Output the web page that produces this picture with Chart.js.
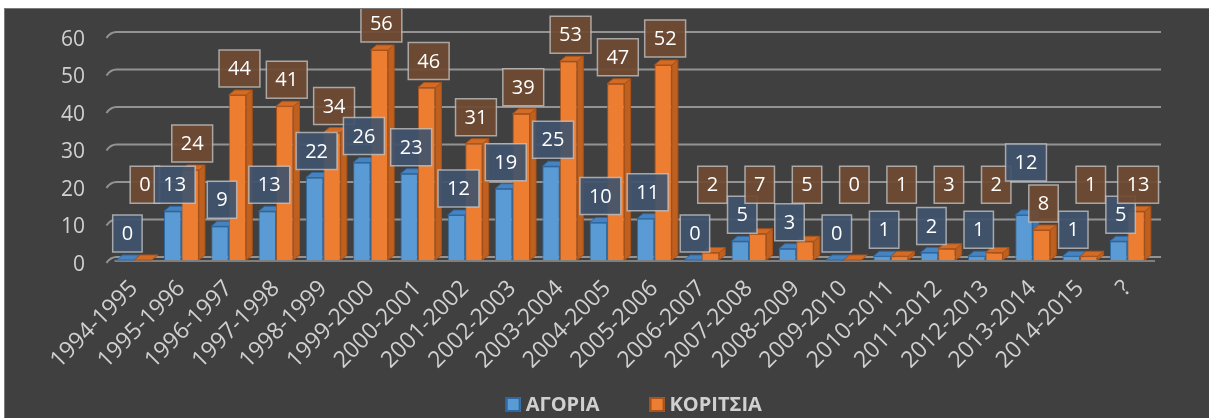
<!DOCTYPE html>
<html>
<head>
<meta charset="utf-8">
<script src="https://cdn.jsdelivr.net/npm/chart.js@4.4.1/dist/chart.umd.min.js"></script>
<style>
  html, body { margin: 0; background: #fff; }
  #frame {
    position: absolute; left: 4px; top: 8px;
    width: 1205px; height: 410px;
    background: #404040;
    border-left: 1px solid #7a7a7a;
    border-top: 1px solid #7a7a7a;
  }
  canvas { display: block; }
</style>
</head>
<body>
<div id="frame"><canvas id="chart" width="1205" height="410"></canvas></div>
<script>
// --- Data ---
const seasons = [
  '1994-1995', '1995-1996', '1996-1997', '1997-1998', '1998-1999', '1999-2000',
  '2000-2001', '2001-2002', '2002-2003', '2003-2004', '2004-2005', '2005-2006',
  '2006-2007', '2007-2008', '2008-2009', '2009-2010', '2010-2011', '2011-2012',
  '2012-2013', '2013-2014', '2014-2015', '?'
]
const boys  = [0, 13, 9, 13, 22, 26, 23, 12, 19, 25, 10, 11, 0, 5, 3, 0, 1, 2, 1, 12, 1, 5]
const girls = [0, 24, 44, 41, 34, 56, 46, 31, 39, 53, 47, 52, 2, 7, 5, 0, 1, 3, 2, 8, 1, 13]
const yTicks = [0, 10, 20, 30, 40, 50, 60]

const FONT = "'Open Sans', 'Noto Sans', sans-serif"
const TEXT = '#d0d0d0'
const DEPTH = { dx: 6, dy: 5 }

// --- 3D look helpers ---

// back wall gridlines with the little hook Excel draws on the left
const wallGrid = {
  id: 'wallGrid',
  beforeDatasetsDraw(chart) {
    const { ctx, chartArea, scales } = chart
    ctx.save()
    ctx.lineWidth = 2
    ctx.strokeStyle = 'rgba(175,175,175,0.75)'
    yTicks.forEach(v => {
      const y = scales.y.getPixelForValue(v) - 3
      ctx.beginPath()
      ctx.moveTo(chartArea.left - 4, y + 6)
      ctx.quadraticCurveTo(chartArea.left, y, chartArea.left + 6, y)
      ctx.lineTo(chartArea.right + 10, y)
      ctx.stroke()
    })
    // front edge of the floor
    const base = scales.y.getPixelForValue(0)
    ctx.strokeStyle = 'rgba(170,170,170,0.8)'
    ctx.lineWidth = 1.5
    ctx.beginPath()
    ctx.moveTo(chartArea.left + 4, base + 1)
    ctx.lineTo(chartArea.right + 4, base + 1)
    ctx.stroke()
    ctx.restore()
  }
}

// top and side faces, drawn behind the flat bar fronts
const bars3d = {
  id: 'bars3d',
  beforeDatasetsDraw(chart) {
    const { ctx } = chart
    const { dx, dy } = DEPTH
    ctx.save()
    ctx.lineWidth = 1
    chart.data.datasets.forEach((ds, di) => {
      chart.getDatasetMeta(di).data.forEach(bar => {
        const { x, y, base, width } = bar.getProps(['x', 'y', 'base', 'width'], true)
        const l = x - width / 2, r = x + width / 2
        ctx.strokeStyle = ds.borderColor
        // side
        ctx.fillStyle = ds.sideColor
        ctx.beginPath()
        ctx.moveTo(r, y); ctx.lineTo(r + dx, y - dy)
        ctx.lineTo(r + dx, base - dy); ctx.lineTo(r, base)
        ctx.closePath(); ctx.fill(); ctx.stroke()
        // top
        ctx.fillStyle = ds.topColor
        ctx.beginPath()
        ctx.moveTo(l, y); ctx.lineTo(l + dx, y - dy)
        ctx.lineTo(r + dx, y - dy); ctx.lineTo(r, y)
        ctx.closePath(); ctx.fill(); ctx.stroke()
      })
    })
    ctx.restore()
  }
}

// boxed value labels above each bar
const valueTags = {
  id: 'valueTags',
  afterDatasetsDraw(chart) {
    const { ctx, scales } = chart
    const { dy } = DEPTH
    const floors = [0, 13] // girls' tags never sit lower than this value
    ctx.save()
    ctx.font = '20px ' + FONT
    ctx.textAlign = 'center'
    ctx.textBaseline = 'middle'
    const h = 37
    seasons.forEach((_, i) => {
      const boxes = chart.data.datasets.map((ds, di) => {
        const v = ds.data[i]
        const bar = chart.getDatasetMeta(di).data[i]
        const text = String(v)
        const w = ctx.measureText(text).width + 18
        let floor = floors[di]
        if (boys[i] > girls[i]) floor = 0
        const bottom = scales.y.getPixelForValue(Math.max(v, floor)) - dy - 3
        return { text, w, cx: bar.x + 2, bottom, fill: ds.tagColor }
      })
      // taller boys' bar: stack its tag above the girls' one
      if (boys[i] > girls[i] && boxes[0].bottom > boxes[1].bottom - h) {
        boxes[0].bottom = boxes[1].bottom - h - 4
      }
      boxes.forEach(b => {
        const top = b.bottom - h
        ctx.fillStyle = b.fill
        ctx.fillRect(b.cx - b.w / 2, top, b.w, h)
        ctx.strokeStyle = 'rgba(200,200,200,0.75)'
        ctx.lineWidth = 1.5
        ctx.strokeRect(b.cx - b.w / 2, top, b.w, h)
        ctx.fillStyle = '#ffffff'
        ctx.fillText(b.text, b.cx, top + h / 2 + 1)
      })
    })
    ctx.restore()
  }
}

// legend row under the axis labels, centred on the plot
const legendRow = {
  id: 'legendRow',
  afterDraw(chart) {
    const { ctx, chartArea } = chart
    const box = 15, gap = 5, spacing = 50
    ctx.save()
    ctx.font = 'bold 20px ' + FONT
    ctx.textBaseline = 'middle'
    const items = chart.data.datasets.map(ds => ({ ds, tw: ctx.measureText(ds.label).width }))
    const total = items.reduce((s, it) => s + box + gap + it.tw, 0) + spacing * (items.length - 1)
    let x = (chartArea.left + chartArea.right) / 2 - total / 2 + 3
    const y = chart.height - 14.5
    items.forEach(({ ds, tw }) => {
      ctx.fillStyle = ds.backgroundColor
      ctx.fillRect(x, y - box / 2, box, box)
      ctx.strokeStyle = ds.borderColor
      ctx.lineWidth = 2
      ctx.strokeRect(x + 1, y - box / 2 + 1, box - 2, box - 2)
      ctx.fillStyle = TEXT
      ctx.fillText(ds.label, x + box + gap, y + 1)
      x += box + gap + tw + spacing
    })
    ctx.restore()
  }
}

new Chart(document.getElementById('chart'), {
  type: 'bar',
  data: {
    labels: seasons,
    datasets: [
      {
        label: 'ΑΓΟΡΙΑ', data: boys,
        backgroundColor: '#5b9bd5', borderColor: '#2c69a3', borderWidth: 1,
        sideColor: '#3d76ae', topColor: '#4683c0', tagColor: 'rgba(64,84,108,0.92)',
        categoryPercentage: 0.74, barPercentage: 1
      },
      {
        label: 'ΚΟΡΙΤΣΙΑ', data: girls,
        backgroundColor: '#ed7d31', borderColor: '#a9531a', borderWidth: 1,
        sideColor: '#c0601f', topColor: '#d46b25', tagColor: 'rgba(112,74,50,0.92)',
        categoryPercentage: 0.74, barPercentage: 1
      }
    ]
  },
  options: {
    responsive: false,
    animation: false,
    layout: { padding: { left: 0, right: 59, top: 26, bottom: 0 } },
    scales: {
      x: {
        grid: { display: false, drawTicks: false },
        border: { display: false },
        ticks: {
          color: TEXT, font: { family: FONT, size: 23 },
          minRotation: 45, maxRotation: 45, autoSkip: false, padding: 15
        },
        afterFit(scale) { scale.height = 159 }
      },
      y: {
        min: 0, max: 60,
        grid: { display: false, drawTicks: false },
        border: { display: false },
        ticks: {
          stepSize: 10, color: TEXT, font: { family: FONT, size: 21 },
          padding: 25.5, labelOffset: 5
        },
        afterFit(scale) {
          scale.width = 105.5
          scale.paddingTop = 0
          scale.paddingBottom = 0
        }
      }
    },
    plugins: {
      tooltip: { enabled: false },
      legend: { display: false }
    }
  },
  plugins: [wallGrid, bars3d, valueTags, legendRow]
})
</script>
</body>
</html>
